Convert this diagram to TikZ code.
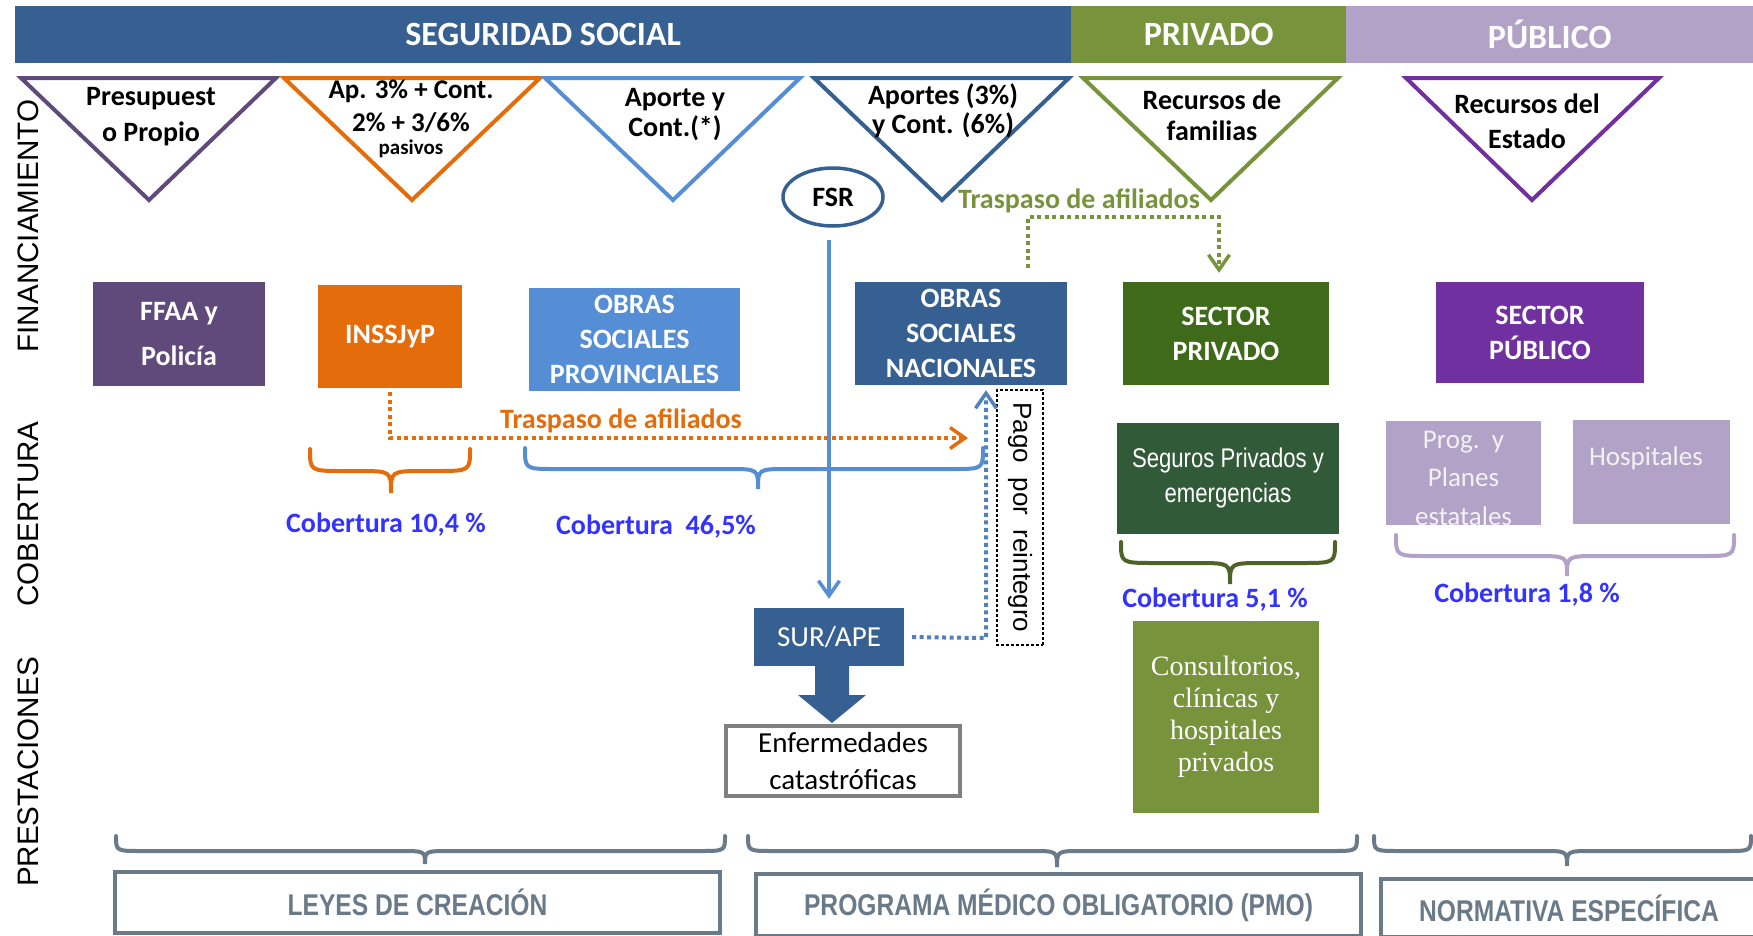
\documentclass[tikz,border=0pt]{standalone}
\usepackage{fontspec}
\setmainfont{Carlito}
\newfontfamily\arialfont{Liberation Sans}
\newfontfamily\narrowfont[FakeStretch=0.82]{Liberation Sans}
\newfontfamily\seriffont{Liberation Serif}
\usetikzlibrary{arrows.meta,shapes.geometric,calc}
\definecolor{segBlue}{RGB}{55,96,146}
\definecolor{privGreen}{RGB}{119,147,60}
\definecolor{pubPurple}{RGB}{179,162,199}
\definecolor{triPurple}{RGB}{96,74,123}
\definecolor{orangeC}{RGB}{228,108,10}
\definecolor{lightBlue}{RGB}{85,142,213}
\definecolor{secGreen}{RGB}{63,106,25}
\definecolor{segGreen}{RGB}{49,91,56}
\definecolor{secPurple}{RGB}{112,48,160}
\definecolor{oliveDark}{RGB}{79,98,40}
\definecolor{cobBlue}{RGB}{51,51,255}
\definecolor{dotBlue}{RGB}{79,129,189}
\definecolor{enfGray}{RGB}{128,128,128}
\definecolor{footGray}{RGB}{106,122,137}
\tikzset{
  bar/.style={inner sep=0pt, minimum height=57, text=white, font=\bfseries\fontsize{34}{40}\selectfont},
  tri/.style={line width=4pt, fill=white, line join=miter},
  tritext/.style={align=center, inner sep=0pt},
  box/.style={inner sep=0pt, align=center, text=white, font=\bfseries\fontsize{28}{35}\selectfont},
  brc/.style={line width=4pt, line cap=round},
  cob/.style={text=cobBlue, inner sep=0pt, font=\bfseries\fontsize{28}{34}\selectfont},
  dotline/.style={line width=4pt, dash pattern=on 4pt off 3.5pt},
  traslabel/.style={inner sep=0pt, font=\bfseries\fontsize{28}{34}\selectfont},
  sidelabel/.style={rotate=90, inner sep=0pt, font=\arialfont\fontsize{29.6}{34}\selectfont},
  footbox/.style={draw=footGray, line width=4pt, fill=white, inner sep=0pt, text=footGray, font=\narrowfont\bfseries\fontsize{30}{36}\selectfont},
  barb/.style={-{Straight Barb[length=15pt,width=21pt,line width=3.5pt]}}
}
\newcommand\curlybrace[8]{%
  \draw[brc, draw=#1] (#2,#5) .. controls (#2,#6) and (#2,#6) .. (#2+#8,#6) -- (#4-#8,#6)
    .. controls (#4,#6) and (#4,#6) .. (#4,#7)
    .. controls (#4,#6) and (#4,#6) .. (#4+#8,#6) -- (#3-#8,#6)
    .. controls (#3,#6) and (#3,#6) .. (#3,#5);}
\begin{document}
\begin{tikzpicture}[x=1pt,y=-1pt]
\useasboundingbox (0,0) rectangle (1753,935);

% header bars
\node[bar, fill=segBlue, minimum width=1056, anchor=north west] (barseg) at (15,6) {SEGURIDAD SOCIAL};
\node[bar, fill=privGreen, minimum width=275, anchor=north west] (barpriv) at (1071,6) {PRIVADO};
\node[bar, fill=pubPurple, minimum width=407, anchor=north west] (barpub) at (1346,6) {PÚBLICO};

% side labels
\node[sidelabel] (lfin) at (28,226) {FINANCIAMIENTO};
\node[sidelabel] (lcob) at (28,514) {COBERTURA};
\node[sidelabel] (lpre) at (28,772) {PRESTACIONES};

% triangles
\draw[tri, draw=triPurple] (21,78) -- (276,78) -- (149,200) -- cycle;
\node[tritext, font=\bfseries\fontsize{28}{36}\selectfont] (t1) at (151,117) {Presupuest\\o Propio};
\draw[tri, draw=orangeC] (284,78) -- (540,78) -- (412,200) -- cycle;
\node[tritext, font=\bfseries\fontsize{27}{33}\selectfont] (t2) at (411,106) {Ap. 3\% + Cont.\\2\% + 3/6\%};
\node[tritext, font=\bfseries\fontsize{21}{25}\selectfont] (t2b) at (411,149) {pasivos};
\draw[tri, draw=lightBlue] (545,78) -- (800,78) -- (673,200) -- cycle;
\node[tritext, font=\bfseries\fontsize{28}{30}\selectfont] (t3) at (675,115) {Aporte y\\Cont.(*)};
\draw[tri, draw=segBlue] (814,78) -- (1069,78) -- (942,200) -- cycle;
\node[tritext, font=\bfseries\fontsize{28}{29}\selectfont] (t4) at (943,111) {Aportes (3\%)\\y Cont. (6\%)};
\draw[tri, draw=privGreen] (1083,78) -- (1338,78) -- (1211,200) -- cycle;
\node[tritext, font=\bfseries\fontsize{28}{31}\selectfont] (t5) at (1212,115) {Recursos de\\familias};
\draw[tri, draw=secPurple] (1406,78) -- (1659,78) -- (1532,200) -- cycle;
\node[tritext, font=\bfseries\fontsize{28}{35}\selectfont] (t6) at (1527,121) {Recursos del\\Estado};

% FSR
\node[ellipse, draw=segBlue, line width=3.5pt, minimum width=100, minimum height=58, inner sep=0pt,
      font=\bfseries\fontsize{28}{34}\selectfont] (fsr) at (833,197) {FSR};

% boxes row 1
\node[box, fill=triPurple, minimum width=172, minimum height=104, font=\bfseries\fontsize{28}{45}\selectfont] (ffaa) at (179,334) {FFAA y\\Policía};
\node[box, fill=orangeC, minimum width=144, minimum height=103] (inss) at (390,336.5) {INSSJyP};
\node[box, fill=lightBlue, minimum width=211, minimum height=103] (osp) at (634.5,339.5) {OBRAS\\SOCIALES\\PROVINCIALES};
\node[box, fill=segBlue, minimum width=212, minimum height=103] (osn) at (961,333.5) {OBRAS\\SOCIALES\\NACIONALES};
\node[box, fill=secGreen, minimum width=206, minimum height=103] (spriv) at (1226,333.5) {SECTOR\\PRIVADO};
\node[box, fill=secPurple, minimum width=208, minimum height=101] (spub) at (1540,332.5) {SECTOR\\PÚBLICO};

% boxes row 2
\node[box, fill=segGreen, minimum width=222, minimum height=111, font=\narrowfont\fontsize{27}{35}\selectfont] (seg) at (1228,478.5) {Seguros Privados y\\emergencias};
\node[box, fill=pubPurple, minimum width=155, minimum height=104] (prog) at (1463.5,473) {};
\node[box, text=white!95!black, font=\fontsize{27}{38.5}\selectfont] (progtxt) at (1463.5,478) {Prog.\ \ y\\Planes\\estatales};
\node[box, fill=pubPurple, minimum width=157, minimum height=104] (hosp) at (1651.5,472) {};
\node[box, text=white!95!black, font=\fontsize{27}{33}\selectfont] (hosptxt) at (1646,458) {Hospitales};

% prestaciones
\node[box, fill=segBlue, minimum width=150, minimum height=58, font=\fontsize{29}{35}\selectfont] (sur) at (829,637) {SUR/APE};
\fill[segBlue] (815,665) -- (849,665) -- (849,695) -- (866,695) -- (832,723) -- (798,695) -- (815,695) -- cycle;
\node[draw=enfGray, line width=4pt, fill=white, minimum width=234, minimum height=70, inner sep=0pt, align=center,
      font=\fontsize{29}{37}\selectfont] (enf) at (843,761) {Enfermedades\\catastróficas};
\node[box, fill=privGreen, minimum width=186, minimum height=192, font=\seriffont\fontsize{28}{32}\selectfont] (cons) at (1226,717) {Consultorios,\\clínicas y\\hospitales\\privados};

% pago por reintegro
\node[draw, dash pattern=on 3pt off 2pt, line width=1.3pt, rotate=-90, minimum width=255, minimum height=46, inner sep=0pt,
      font=\arialfont\fontsize{26}{30}\selectfont] (pago) at (1020,517.5) {Pago\ \ por\ \ reintegro};

% connectors
\draw[line width=3.5pt, draw=lightBlue, barb, shorten <=12pt, shorten >=9pt] (sur.north |- fsr.south) -- (sur.north);
\coordinate (reint) at (986,638);
\draw[dotline, draw=dotBlue, barb, shorten <=8pt, shorten >=5pt] (sur.east) -- (reint) -- (reint |- osn.south);
\coordinate (orEnd) at (968,438);
\draw[dotline, draw=orangeC, barb, shorten <=4pt] (inss.south) |- (orEnd);
\node[traslabel, text=orangeC] (lblor) at (621,421) {Traspaso de afiliados};
\coordinate (gL) at (1028,217);
\coordinate (gR) at (1219,217);
\draw[dotline, draw=privGreen, barb, shorten <=14pt, shorten >=9pt] (gL |- osn.north) -- (gL) -- (gR) -- (gR |- spriv.north);
\node[traslabel, text=privGreen] (lblgr) at (1079,201) {Traspaso de afiliados};

% braces
\curlybrace{orangeC}{310}{470}{391}{449}{471}{493}{34}
\curlybrace{lightBlue}{525}{983}{758}{448}{469}{489}{30}
\curlybrace{oliveDark}{1121}{1335}{1230}{542}{563}{584}{34}
\curlybrace{pubPurple}{1396}{1734}{1567}{535}{556}{576}{32}
\curlybrace{footGray}{116}{725}{425}{836}{851}{864}{26}
\curlybrace{footGray}{748}{1357}{1057}{836}{851}{867}{26}
\curlybrace{footGray}{1374}{1751}{1567}{836}{851}{866}{26}

% cobertura
\node[cob] (c1) at (386,525) {Cobertura 10,4 \%};
\node[cob] (c2) at (656,527) {Cobertura\ \ 46,5\%};
\node[cob] (c3) at (1215,600) {Cobertura 5,1 \%};
\node[cob] (c4) at (1527,595) {Cobertura 1,8 \%};

% footer boxes
\node[footbox, minimum width=605, minimum height=61] (leyes) at (417.5,902.5) {LEYES DE CREACIÓN};
\node[footbox, minimum width=605, minimum height=62] (pmo) at (1058.5,905) {PROGRAMA MÉDICO OBLIGATORIO (PMO)};
\node[footbox, minimum width=376, minimum height=58] (norm) at (1569,908) {NORMATIVA ESPECÍFICA};
\end{tikzpicture}
\end{document}
